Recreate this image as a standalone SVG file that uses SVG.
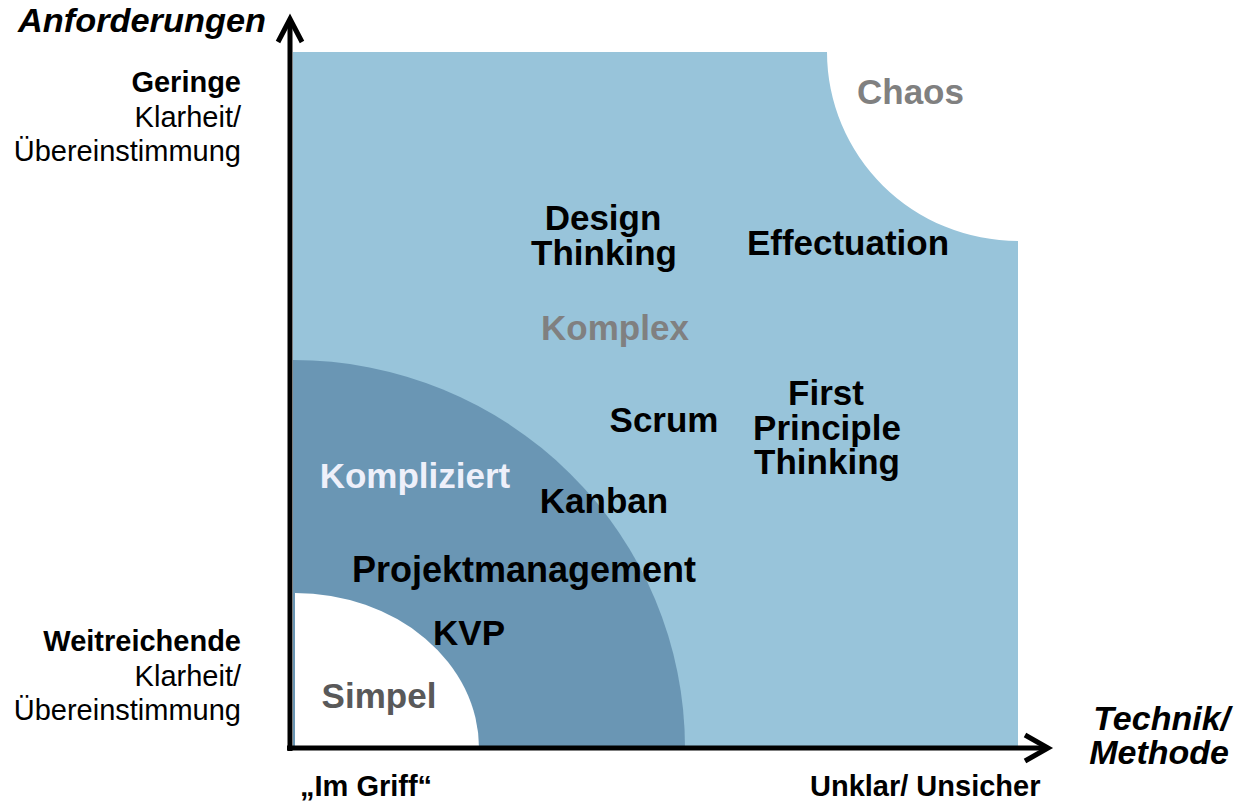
<svg xmlns="http://www.w3.org/2000/svg" width="1234" height="804" viewBox="0 0 1234 804">
<style>
text{font-family:"Liberation Sans",Arial,sans-serif;font-weight:bold}
.in{font-size:35px;fill:#000}
.side{font-size:29px;fill:#000}
.reg{font-weight:normal}
.ax{font-size:34px;font-style:italic}
.axis{stroke:#000;stroke-width:5;fill:none}
</style>
<rect width="1234" height="804" fill="#fff"/>
<g id="komplex-area">
<path d="M293,52 H827 A191,189 0 0 0 1018,241 V748 H293 Z" fill="#98C4DA"/>
</g>
<g id="kompliziert-area">
<path d="M293,748 V360 A392,388 0 0 1 685,748 Z" fill="#6A96B4"/>
</g>
<g id="simpel-area">
<path d="M295,748 V593 A184,155 0 0 1 479,748 Z" fill="#fff"/>
</g>
<g id="connectors">
<path class="axis" d="M290,751 V20"/>
<path class="axis" d="M278,42 L290,19 L302,42"/>
<path class="axis" d="M287,748 H1046"/>
<path class="axis" d="M1025,735 L1048,748 L1025,761"/>
</g>
<g id="axis-labels">
<text class="ax" x="18" y="32" textLength="248" lengthAdjust="spacingAndGlyphs">Anforderungen</text>
<text class="ax" x="1230" y="730" text-anchor="end">Technik/</text>
<text class="ax" x="1229" y="764" text-anchor="end">Methode</text>
</g>
<g id="y-top-label">
<text class="side" x="241" y="92" text-anchor="end">Geringe</text>
<text class="side reg" x="241" y="127" text-anchor="end">Klarheit/</text>
<text class="side reg" x="241" y="161" text-anchor="end">Übereinstimmung</text>
</g>
<g id="y-bottom-label">
<text class="side" x="241" y="651" text-anchor="end">Weitreichende</text>
<text class="side reg" x="241" y="686" text-anchor="end">Klarheit/</text>
<text class="side reg" x="241" y="720" text-anchor="end">Übereinstimmung</text>
</g>
<g id="x-labels">
<text class="side" x="300" y="796">„Im Griff“</text>
<text class="side" x="810" y="796">Unklar/ Unsicher</text>
</g>
<g id="chaos"><text class="in" x="857" y="104" style="fill:#808080">Chaos</text></g>
<g id="komplex"><text class="in" x="615" y="340" text-anchor="middle" style="fill:#808080">Komplex</text></g>
<g id="kompliziert"><text class="in" x="415" y="488" text-anchor="middle" style="fill:#EEF0FA">Kompliziert</text></g>
<g id="simpel"><text class="in" x="379" y="708" text-anchor="middle" style="fill:#595959">Simpel</text></g>
<g id="design-thinking">
<text class="in" x="603" y="230" text-anchor="middle">Design</text>
<text class="in" x="604" y="265" text-anchor="middle">Thinking</text>
</g>
<g id="effectuation"><text class="in" x="848" y="255" text-anchor="middle">Effectuation</text></g>
<g id="scrum"><text class="in" x="664" y="432" text-anchor="middle">Scrum</text></g>
<g id="first-principle">
<text class="in" x="826" y="405" text-anchor="middle">First</text>
<text class="in" x="827" y="440" text-anchor="middle">Principle</text>
<text class="in" x="827" y="474" text-anchor="middle">Thinking</text>
</g>
<g id="kanban"><text class="in" x="604" y="513" text-anchor="middle">Kanban</text></g>
<g id="projektmanagement"><text class="in" x="524" y="582" text-anchor="middle" style="font-size:36px">Projektmanagement</text></g>
<g id="kvp"><text class="in" x="469" y="645" text-anchor="middle">KVP</text></g>
</svg>
